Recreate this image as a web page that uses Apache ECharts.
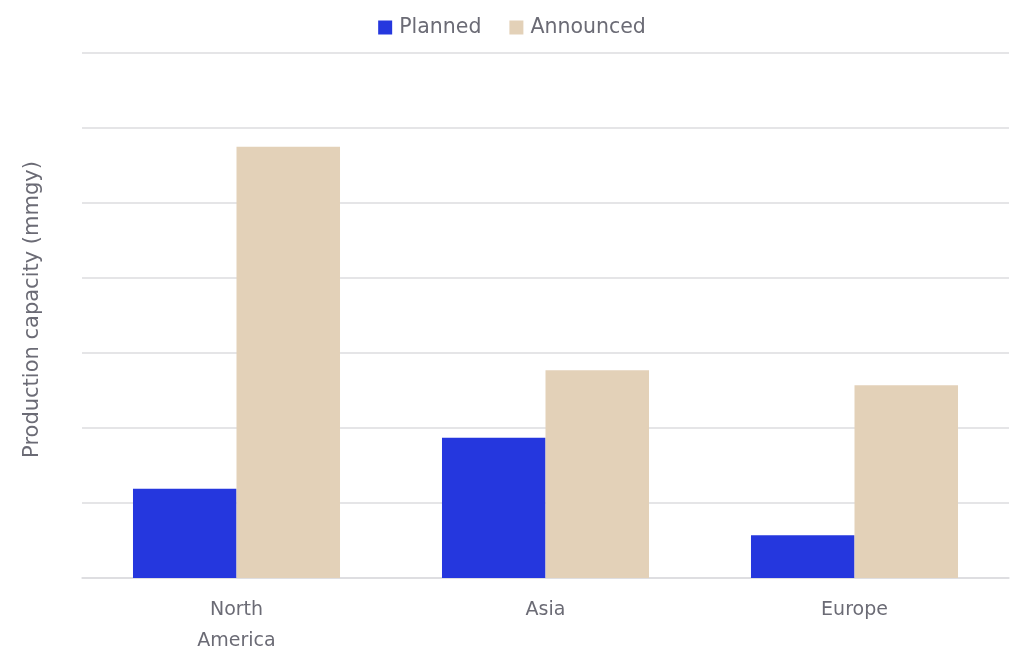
<!DOCTYPE html>
<html>
<head>
<meta charset="utf-8">
<script src="https://cdn.jsdelivr.net/npm/echarts@6/dist/echarts.min.js"></script>
<style>
html,body{margin:0;padding:0;background:#fff;}
#chart{width:1024px;height:657px;}
</style>
</head>
<body>
<div id="chart"></div>
<script>
const categories = ['North\nAmerica', 'Asia', 'Europe'];
const plannedValues = [119, 187, 57];
const announcedValues = [575, 277, 257];
const seriesNames = ['Planned', 'Announced'];
const yAxisName = 'Production capacity (mmgy)';

const chart = echarts.init(document.getElementById('chart'));
const textColor = '#6b6b75';
const font = '"DejaVu Sans", sans-serif';
chart.setOption({
  animation: false,
  textStyle: { fontFamily: font },
  legend: {
    top: 12,
    left: 'center',
    itemWidth: 14,
    itemHeight: 14,
    itemGap: 28,
    icon: 'rect',
    textStyle: { fontSize: 20.5, color: textColor, fontFamily: font, padding: [0, 0, 0, 2] },
    data: seriesNames
  },
  grid: { left: 82, right: 15, top: 53, bottom: 79 },
  xAxis: {
    type: 'category',
    data: categories,
    axisTick: { show: false },
    axisLine: { lineStyle: { color: '#dcdcdf', width: 1.5 } },
    axisLabel: { color: textColor, fontSize: 19, lineHeight: 31, margin: 17, fontFamily: font }
  },
  yAxis: {
    type: 'value',
    min: 0,
    max: 700,
    interval: 100,
    name: yAxisName,
    nameLocation: 'middle',
    nameGap: 39,
    nameTextStyle: { color: textColor, fontSize: 21, fontFamily: font, padding: [0, 0, 0, 12] },
    axisLabel: { show: false },
    axisLine: { show: false },
    axisTick: { show: false },
    splitLine: { lineStyle: { color: '#dcdcdf', width: 1.5 } }
  },
  series: [
    {
      name: seriesNames[0],
      type: 'bar',
      data: plannedValues,
      itemStyle: { color: '#2537de' },
      barGap: '0%',
      barCategoryGap: '33%'
    },
    {
      name: seriesNames[1],
      type: 'bar',
      data: announcedValues,
      itemStyle: { color: '#e3d1b8' },
      barGap: '0%',
      barCategoryGap: '33%'
    }
  ]
});
</script>
</body>
</html>
